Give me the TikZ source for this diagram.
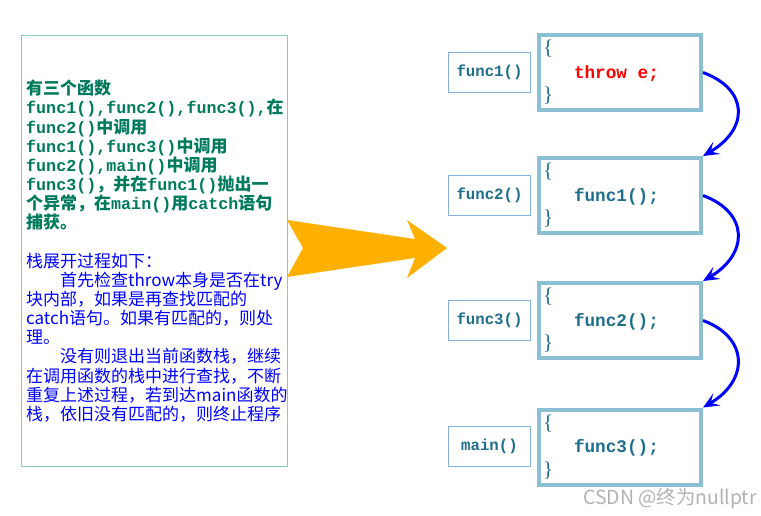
\documentclass[tikz,border=0pt]{standalone}
\usepackage{fontspec}
\usetikzlibrary{arrows.meta}
\newfontfamily\cjkf{Noto Sans CJK SC}
\newfontfamily\monof{Liberation Mono}
\newfontfamily\seriff{Liberation Serif}
\definecolor{leftborder}{HTML}{7FD0B4}
\definecolor{boxborder}{HTML}{8BBFD4}
\definecolor{labborder}{HTML}{86B2DE}
\definecolor{codeteal}{HTML}{1E6E8C}
\definecolor{txtgreen}{HTML}{007A5C}
\definecolor{txtblue}{HTML}{0000FF}
\definecolor{arrorange}{HTML}{FFB000}
\newcommand{\mm}[1]{{\monof\bfseries\fontsize{16.7}{19.1}\selectfont #1}}
\newcommand{\codeln}[1]{\hspace*{31pt}{\monof\bfseries\fontsize{17.7}{23.5}\selectfont #1}}
\begin{document}
\begin{tikzpicture}[x=1pt,y=-1pt,
  codebox/.style={draw=boxborder, line width=4pt, minimum width=162pt, minimum height=75pt,
    text width=154pt, inner xsep=4pt, inner ysep=0pt, align=left, text=codeteal,
    font={\seriff\fontsize{21}{23.5}\selectfont}},
  labbox/.style={draw=labborder, line width=1pt, minimum width=82pt, minimum height=40pt,
    inner sep=0pt, text=codeteal, font={\monof\bfseries\fontsize{15.7}{18}\selectfont}},
  callarrow/.style={draw=txtblue, line width=3pt, -{Stealth[length=16pt,width=14pt,inset=7pt]}}
]
\useasboundingbox (0,0) rectangle (761,516);
% left description box
\node[draw=leftborder, line width=1pt, minimum width=266pt, minimum height=431pt, inner sep=0pt] (leftbox) at (154.5,251) {};
\node[anchor=north west, inner sep=0pt, text width=280pt, align=left,
  font={\cjkf\fontsize{17}{19.15}\selectfont}] (desc) at (26,80) {%
\textcolor{txtgreen}{\bfseries 有三个函数\\
\mm{func1(),func2(),func3(),}在\\
\mm{func2()}中调用\\
\mm{func1(),func3()}中调用\\
\mm{func2(),main()}中调用\\
\mm{func3()}，并在\mm{func1()}抛出一\\
个异常，在\mm{main()}用\mm{catch}语句\\
捕获。}\\
~\\
\textcolor{txtblue}{栈展开过程如下：\\
　　首先检查throw本身是否在try\\
块内部，如果是再查找匹配的\\
catch语句。如果有匹配的，则处\\
理。\\
　　没有则退出当前函数栈，继续\\
在调用函数的栈中进行查找，不断\\
重复上述过程，若到达main函数的\\
栈，依旧没有匹配的，则终止程序}};
% big orange arrow
\fill[arrorange] (287,220) -- (415,239) -- (407,220) -- (447,248) -- (407,278) -- (415,258) -- (287,277) -- (303,248) -- cycle;
% label boxes
\node[labbox] (l1) at (489.5,72.5) {func1()};
\node[labbox] (l2) at (489.5,195.5) {func2()};
\node[labbox] (l3) at (489.5,320) {func3()};
\node[labbox] (l4) at (489.5,446.5) {main()};
% code boxes
\node[codebox] (b1) at (620,72.5) {\{\\\codeln{\textcolor{red}{throw\hspace{10.6pt}e;}}\\\}};
\node[codebox] (b2) at (620,195.5) {\{\\\codeln{func1();}\\\}};
\node[codebox] (b3) at (620,320.5) {\{\\\codeln{func2();}\\\}};
\node[codebox] (b4) at (620,447) {\{\\\codeln{func3();}\\\}};
% call arrows
\draw[callarrow] (b1.east) .. controls +(46,17) and +(46,-27) .. (b2.north east);
\draw[callarrow] (b2.east) .. controls +(46,17) and +(46,-27) .. (b3.north east);
\draw[callarrow] (b3.east) .. controls +(46,17) and +(46,-27) .. (b4.north east);
% watermark
\node[anchor=base east, inner sep=0pt, text=black!30, font={\cjkf\fontsize{19.4}{19.4}\selectfont}] (wm) at (757,504) {CSDN @终为nullptr};
\end{tikzpicture}
\end{document}
